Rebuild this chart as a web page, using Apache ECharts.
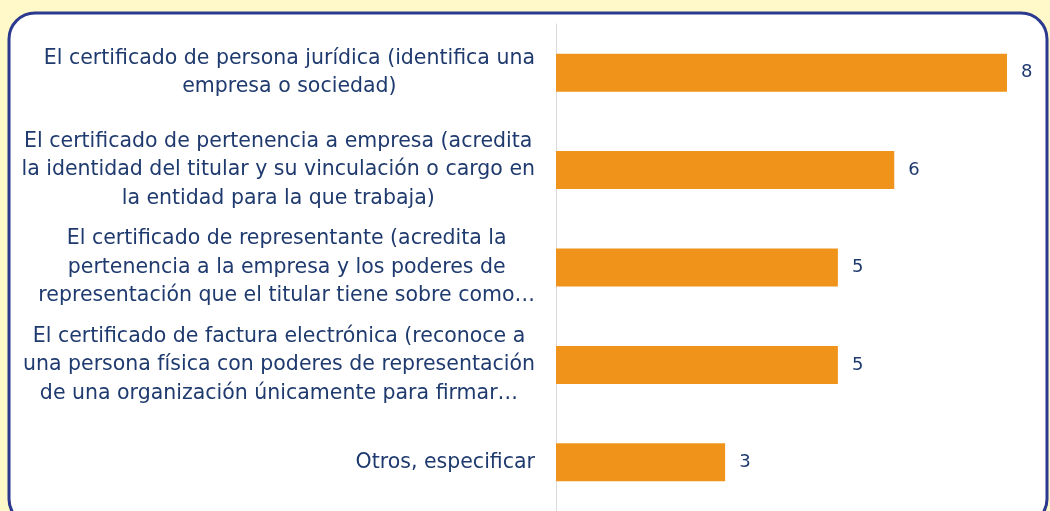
<!DOCTYPE html>
<html>
<head>
<meta charset="utf-8">
<style>
  html, body { margin: 0; padding: 0; background: #FFF8C8; }
  #chart { width: 1050px; height: 511px; }
</style>
<script src="https://cdn.jsdelivr.net/npm/echarts@6/dist/echarts.min.js"></script>
</head>
<body>
<div id="chart"></div>
<script>
// categorias (de arriba a abajo)
var categorias = [
    'El certificado de persona jurídica (identifica una\nempresa o sociedad)',
    'El certificado de pertenencia a empresa (acredita\nla identidad del titular y su vinculación o cargo en\nla entidad para la que trabaja)',
    'El certificado de representante (acredita la\npertenencia a la empresa y los poderes de\nrepresentación que el titular tiene sobre como…',
    'El certificado de factura electrónica (reconoce a\nuna persona física con poderes de representación\nde una organización únicamente para firmar…',
    'Otros, especificar'
];
var valores = [8, 6, 5, 5, 3];

var navy = '#1F3A6E';
var fuente = 'DejaVu Sans';

var myChart = echarts.init(document.getElementById('chart'));
var option = {
    backgroundColor: '#FFF8C8',
    animation: false,
    graphic: [{
        type: 'rect',
        z: -10,
        shape: { x: 9, y: 13, width: 1038, height: 512, r: 26 },
        style: { fill: '#ffffff', stroke: '#2B3A8F', lineWidth: 3 }
    }],
    grid: {
        left: 556,
        top: 24,
        width: 451,
        height: 493
    },
    xAxis: {
        type: 'value',
        min: 0,
        max: 8,
        show: false
    },
    yAxis: {
        type: 'category',
        inverse: true,
        data: categorias,
        axisLine: { show: true, lineStyle: { color: '#D9D9D9', width: 1 } },
        axisTick: { show: false },
        axisLabel: {
            margin: 21,
            align: 'right',
            // cada linea centrada dentro del bloque
            formatter: function (v) {
                return v.split('\n').map(function (l) { return '{c|' + l + '}'; }).join('\n');
            },
            rich: {
                c: {
                    align: 'center',
                    color: navy,
                    fontFamily: fuente,
                    fontSize: 20.5,
                    lineHeight: 28.5
                }
            }
        }
    },
    series: [{
        type: 'bar',
        data: valores,
        barWidth: 38,
        itemStyle: { color: '#F0931A' },
        label: {
            show: true,
            position: 'right',
            distance: 14,
            color: navy,
            fontFamily: fuente,
            fontSize: 18
        }
    }]
};
myChart.setOption(option);
</script>
</body>
</html>
